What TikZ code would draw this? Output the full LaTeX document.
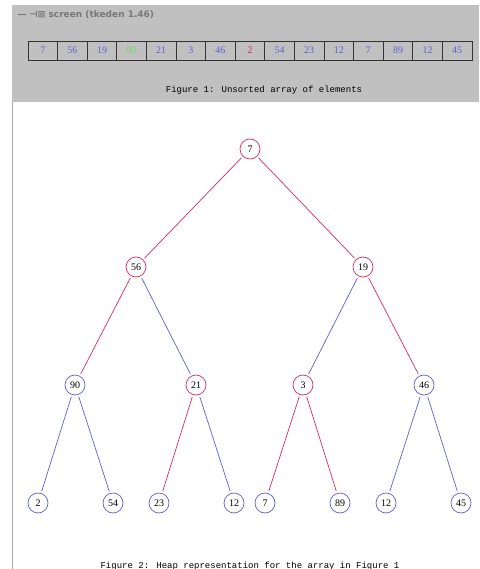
\documentclass[tikz,border=0pt]{standalone}
\usepackage{fontspec}
\setmainfont{Liberation Serif}
\newfontfamily\monofnt{Liberation Mono}
\newfontfamily\titlefnt{DejaVu Sans}
\definecolor{panelgrey}{RGB}{192,192,192}
\definecolor{hred}{RGB}{215,45,95}
\definecolor{hblue}{RGB}{95,95,215}
\definecolor{hgreen}{RGB}{110,220,110}
\definecolor{titlegrey}{RGB}{120,120,120}
\tikzset{
  hnode/.style={circle, draw, line width=0.7pt, minimum size=20pt, inner sep=0pt, font=\fontsize{10}{10}\selectfont, fill=white},
  rnode/.style={hnode, draw=hred},
  bnode/.style={hnode, draw=hblue},
  redge/.style={draw=hred, line width=0.7pt, shorten <=2pt, shorten >=2pt},
  bedge/.style={draw=hblue, line width=0.7pt, shorten <=2pt, shorten >=2pt},
  cell/.style={draw=black!80, line width=0.7pt, minimum width=29.6pt, minimum height=19pt, inner sep=0pt, font=\fontsize{10}{10}\selectfont},
  caption/.style={font=\monofnt\fontsize{9}{9}\selectfont, text=black}
}
\begin{document}
\begin{tikzpicture}[x=1pt,y=-1pt]
\useasboundingbox (0,0) rectangle (479,569);
\fill[white] (0,0) rectangle (479,569);
% top panel
\fill[panelgrey] (12,5) rectangle (479,102);
\draw[panelgrey!90!black, line width=1pt] (12.5,102) -- (12.5,569);
\node[anchor=west, text=titlegrey, font=\titlefnt\bfseries\fontsize{9}{9}\selectfont] (title) at (14,15) {— ⊣⊠\ screen (tkeden 1.46)};
% array cells
\foreach \v/\c [count=\i from 0] in {7/hblue,56/hblue,19/hblue,90/hgreen,21/hblue,3/hblue,46/hblue,2/hred,54/hblue,23/hblue,12/hblue,7/hblue,89/hblue,12/hblue,45/hblue}{
  \node[cell, text=\c] (c\i) at (28+14.8+29.6*\i, 50.5) {\v};
}
\node[caption] (cap1) at (264,90) {Figure 1: Unsorted array of elements};
% tree nodes
\node[rnode] (n1) at (250,149) {7};
\node[rnode] (n2) at (136,267) {56};
\node[rnode] (n3) at (363,267) {19};
\node[bnode] (n4) at (75,385) {90};
\node[rnode] (n5) at (196,385) {21};
\node[rnode] (n6) at (303,385) {3};
\node[bnode] (n7) at (424,385) {46};
\node[bnode] (n8) at (38,503) {2};
\node[bnode] (n9) at (113,503) {54};
\node[bnode] (n10) at (159,503) {23};
\node[bnode] (n11) at (234,503) {12};
\node[bnode] (n12) at (265,503) {7};
\node[bnode] (n13) at (340,503) {89};
\node[bnode] (n14) at (386,503) {12};
\node[bnode] (n15) at (461,503) {45};
% edges
\draw[redge] (n1) -- (n2);
\draw[redge] (n1) -- (n3);
\draw[redge] (n2) -- (n4);
\draw[bedge] (n2) -- (n5);
\draw[bedge] (n3) -- (n6);
\draw[redge] (n3) -- (n7);
\draw[bedge] (n4) -- (n8);
\draw[bedge] (n4) -- (n9);
\draw[redge] (n5) -- (n10);
\draw[bedge] (n5) -- (n11);
\draw[redge] (n6) -- (n12);
\draw[redge] (n6) -- (n13);
\draw[bedge] (n7) -- (n14);
\draw[bedge] (n7) -- (n15);
\node[caption] (cap2) at (250,566) {Figure 2: Heap representation for the array in Figure 1};
\end{tikzpicture}
\end{document}
